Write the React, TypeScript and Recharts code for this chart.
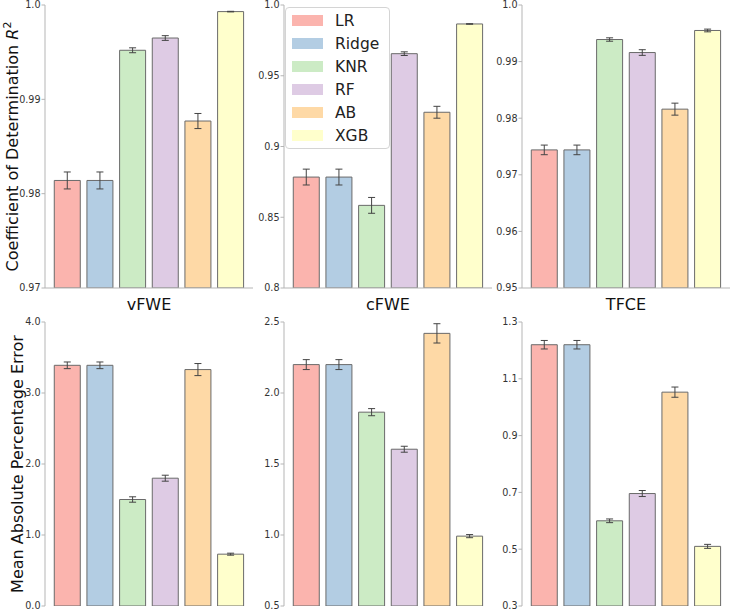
import React from "react";
import { Bar, BarChart, Cell, ErrorBar, Legend, XAxis, YAxis } from "recharts";

const MODELS = ["LR", "Ridge", "KNR", "RF", "AB", "XGB"];
const COLORS = ["#fbb4ae", "#b3cde3", "#ccebc5", "#decbe4", "#fed9a6", "#ffffcc"];
const METHODS = ["vFWE", "cFWE", "TFCE"];

// R^2, mean and error per model
const R2_VFWE = [0.9814, 0.9814, 0.9952, 0.9965, 0.9877, 0.9993];
const R2_VFWE_ERR = [0.0009, 0.0009, 0.00026, 0.00025, 0.0008, 0.00003];
const R2_CFWE = [0.8784, 0.8784, 0.8584, 0.9656, 0.9242, 0.9866];
const R2_CFWE_ERR = [0.0056, 0.0056, 0.0056, 0.0013, 0.0042, 0.0002];
const R2_TFCE = [0.9744, 0.9744, 0.9939, 0.9916, 0.9816, 0.9955];
const R2_TFCE_ERR = [0.00085, 0.00085, 0.0003, 0.0005, 0.00106, 0.00024];

// MAPE, mean and error per model
const MAPE_VFWE = [3.39, 3.39, 1.5, 1.8, 3.33, 0.73];
const MAPE_VFWE_ERR = [0.047, 0.047, 0.038, 0.042, 0.085, 0.014];
const MAPE_CFWE = [2.2, 2.2, 1.865, 1.604, 2.42, 0.992];
const MAPE_CFWE_ERR = [0.035, 0.035, 0.025, 0.021, 0.068, 0.011];
const MAPE_TFCE = [1.22, 1.22, 0.6, 0.696, 1.053, 0.51];
const MAPE_TFCE_ERR = [0.015, 0.015, 0.0065, 0.0106, 0.018, 0.007];

const TICKS_R2_VFWE = [0.97, 0.98, 0.99, 1.0];
const TICKS_R2_CFWE = [0.8, 0.85, 0.9, 0.95, 1.0];
const TICKS_R2_TFCE = [0.95, 0.96, 0.97, 0.98, 0.99, 1.0];
const TICKS_MAPE_VFWE = [0, 1, 2, 3, 4];
const TICKS_MAPE_CFWE = [0.5, 1.0, 1.5, 2.0, 2.5];
const TICKS_MAPE_TFCE = [0.3, 0.5, 0.7, 0.9, 1.1, 1.3];

const FONT = "DejaVu Sans";
const FRAME = "#b5b5b5";
const EDGE = "#6a6a6a";

const fmt = (v: number) => (Number.isInteger(v) ? v.toFixed(1) : String(v));

function LegendBox() {
  return (
    <div
      style={{
        border: "1px solid #d4d4d4",
        borderRadius: 4,
        background: "rgba(255,255,255,0.85)",
        padding: "1px 10px 1px 6px",
        fontFamily: FONT,
        fontSize: 15.5,
        color: "#222",
      }}
    >
      {MODELS.map((m, i) => (
        <div key={m} style={{ display: "flex", alignItems: "center", height: 23 }}>
          <span style={{ width: 31, height: 11, background: COLORS[i], marginRight: 12, display: "inline-block" }} />
          <span>{m}</span>
        </div>
      ))}
    </div>
  );
}

type PanelProps = {
  values: number[];
  errs: number[];
  domain: [number, number];
  ticks: number[];
  left: number;
  top: number;
  row: "top" | "bottom";
  xLabel?: string;
  yTitle?: "r2" | "mape";
  legend?: boolean;
};

function Panel({ values, errs, domain, ticks, left, top, row, xLabel, yTitle, legend }: PanelProps) {
  const data = MODELS.map((m, i) => ({ name: m, value: values[i], err: errs[i] }));
  const isTop = row === "top";

  const yLabel = yTitle
    ? {
        content: (p: any) => {
          const vb = p.viewBox || {};
          const bx = yTitle === "r2" ? 18 : 23;
          const cy = vb.y + vb.height / 2;
          return (
            <text x={bx} y={cy} transform={`rotate(-90 ${bx} ${cy})`} textAnchor="middle" fontSize={16} fontFamily={FONT} fill="#111">
              {yTitle === "r2" ? (
                <>
                  Coefficient of Determination <tspan fontStyle="italic">R</tspan>
                  <tspan dy={-7} fontSize={11}>2</tspan>
                </>
              ) : (
                "Mean Absolute Percentage Error"
              )}
            </text>
          );
        },
      }
    : undefined;

  const xLab = xLabel
    ? {
        content: (p: any) => {
          const vb = p.viewBox || {};
          return (
            <text x={vb.x + vb.width / 2} y={vb.y + 22} textAnchor="middle" fontSize={16} fontFamily={FONT} fill="#111">
              {xLabel}
            </text>
          );
        },
      }
    : undefined;

  return (
    <div style={{ position: "absolute", left, top }}>
      <BarChart
        width={255}
        height={isTop ? 320 : 295}
        data={data}
        margin={{ top: 5, right: 2, bottom: isTop ? 2 : 6, left: 0 }}
        barCategoryGap="10%"
      >
        <XAxis
          dataKey="name"
          tick={false}
          tickLine={false}
          axisLine={{ stroke: FRAME }}
          height={isTop ? 30 : 0}
          padding={{ left: 6, right: 6 }}
          label={xLab}
        />
        <XAxis xAxisId="t" orientation="top" height={0} tick={false} tickLine={false} axisLine={{ stroke: FRAME }} />
        <YAxis
          type="number"
          domain={domain}
          ticks={ticks}
          allowDataOverflow
          interval={0}
          width={45}
          tickFormatter={fmt}
          tick={{ fontSize: 9.6, fill: "#333", fontFamily: FONT }}
          tickLine={{ stroke: FRAME }}
          tickSize={3.5}
          tickMargin={1}
          axisLine={{ stroke: FRAME }}
          label={yLabel}
        />
        <YAxis yAxisId="r" orientation="right" width={0} tick={false} tickLine={false} axisLine={{ stroke: FRAME }} />
        <Bar dataKey="value" stroke={EDGE} strokeWidth={1} isAnimationActive={false}>
          {data.map((d, i) => (
            <Cell key={d.name} fill={COLORS[i]} />
          ))}
          <ErrorBar dataKey="err" width={3.5} stroke="#444" strokeWidth={1} />
        </Bar>
        {legend && (
          <Legend
            layout="vertical"
            align="center"
            verticalAlign="middle"
            content={<LegendBox />}
            wrapperStyle={{ left: 46.5, top: 7, width: "auto" }}
          />
        )}
      </BarChart>
    </div>
  );
}

export default function App() {
  const lefts = [0, 238.5, 477];
  return (
    <div style={{ position: "absolute", left: 0, top: 0, width: 732, height: 612, background: "#fff" }}>
      <Panel values={R2_VFWE} errs={R2_VFWE_ERR} domain={[0.97, 1.0]} ticks={TICKS_R2_VFWE} left={lefts[0]} top={0} row="top" xLabel={METHODS[0]} yTitle="r2" />
      <Panel values={R2_CFWE} errs={R2_CFWE_ERR} domain={[0.8, 1.0]} ticks={TICKS_R2_CFWE} left={lefts[1]} top={0} row="top" xLabel={METHODS[1]} legend />
      <Panel values={R2_TFCE} errs={R2_TFCE_ERR} domain={[0.95, 1.0]} ticks={TICKS_R2_TFCE} left={lefts[2]} top={0} row="top" xLabel={METHODS[2]} />
      <Panel values={MAPE_VFWE} errs={MAPE_VFWE_ERR} domain={[0, 4]} ticks={TICKS_MAPE_VFWE} left={lefts[0]} top={317} row="bottom" yTitle="mape" />
      <Panel values={MAPE_CFWE} errs={MAPE_CFWE_ERR} domain={[0.5, 2.5]} ticks={TICKS_MAPE_CFWE} left={lefts[1]} top={317} row="bottom" />
      <Panel values={MAPE_TFCE} errs={MAPE_TFCE_ERR} domain={[0.3, 1.3]} ticks={TICKS_MAPE_TFCE} left={lefts[2]} top={317} row="bottom" />
    </div>
  );
}
